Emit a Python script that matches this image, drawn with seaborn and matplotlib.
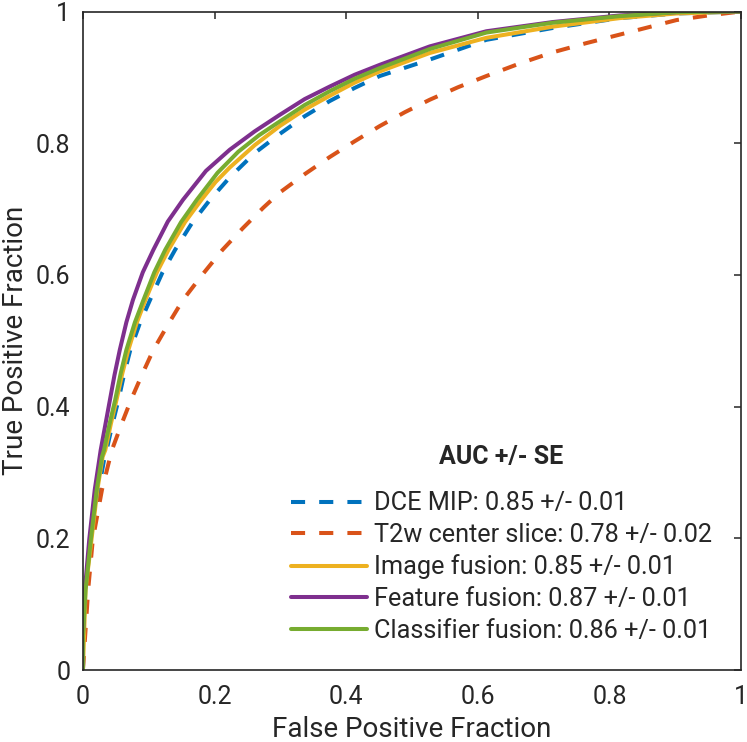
import numpy as np
import pandas as pd
import matplotlib
matplotlib.use("Agg")
import matplotlib.pyplot as plt
import seaborn as sns

sns.set_theme(style="white")
plt.rcParams['font.family'] = ['Roboto', 'DejaVu Sans']

# ROC points (false positive fraction, true positive fraction)
dce_fpf = [0, 0.004, 0.013, 0.024, 0.033, 0.036, 0.045, 0.054, 0.063, 0.072, 0.087, 0.102,
           0.121, 0.140, 0.1665, 0.193, 0.223, 0.261, 0.299, 0.337, 0.375, 0.413, 0.451,
           0.527, 0.613, 0.714, 0.816, 0.902, 1]
dce_tpf = [0, 0.122, 0.198, 0.274, 0.324, 0.334, 0.374, 0.410, 0.451, 0.486, 0.528, 0.562,
           0.604, 0.638, 0.680, 0.714, 0.748, 0.785, 0.814, 0.841, 0.864, 0.884, 0.902,
           0.927, 0.957, 0.975, 0.990, 0.997, 1]

t2w_fpf = [0, 0.008, 0.015, 0.029, 0.044, 0.0585, 0.073, 0.090, 0.107, 0.1295, 0.152, 0.182,
           0.212, 0.243, 0.274, 0.299, 0.337, 0.375, 0.413, 0.451, 0.489, 0.527, 0.570,
           0.613, 0.6635, 0.714, 0.765, 0.816, 0.902, 0.95, 1]
t2w_tpf = [0, 0.122, 0.198, 0.274, 0.334, 0.373, 0.410, 0.449, 0.486, 0.525, 0.562, 0.601,
           0.638, 0.671, 0.702, 0.725, 0.753, 0.779, 0.803, 0.826, 0.847, 0.866, 0.885,
           0.902, 0.921, 0.938, 0.952, 0.965, 0.987, 0.994, 1]

img_fpf = [0, 0.004, 0.013, 0.022, 0.030, 0.034, 0.0425, 0.051, 0.060, 0.069, 0.082, 0.095,
           0.1125, 0.130, 0.155, 0.180, 0.2015, 0.223, 0.261, 0.299, 0.337, 0.375, 0.413,
           0.451, 0.527, 0.613, 0.714, 0.816, 0.902, 1]
img_tpf = [0, 0.122, 0.198, 0.274, 0.324, 0.334, 0.374, 0.410, 0.451, 0.486, 0.528, 0.562,
           0.604, 0.638, 0.680, 0.714, 0.741, 0.763, 0.797, 0.826, 0.851, 0.872, 0.892,
           0.909, 0.937, 0.960, 0.977, 0.990, 0.997, 1]

feat_fpf = [0, 0.0, 0.003, 0.0096, 0.018, 0.027, 0.041, 0.048, 0.056, 0.066, 0.076,
            0.091, 0.107, 0.129, 0.152, 0.187, 0.223, 0.261, 0.299, 0.337, 0.375, 0.413,
            0.451, 0.527, 0.613, 0.714, 0.816, 0.902, 1]
feat_tpf = [0, 0.05, 0.122, 0.198, 0.274, 0.334, 0.410, 0.448, 0.486, 0.528, 0.562,
            0.604, 0.638, 0.681, 0.714, 0.758, 0.790, 0.818, 0.843, 0.867, 0.886, 0.904,
            0.919, 0.947, 0.970, 0.984, 0.994, 0.999, 1]

clf_fpf = [0, 0.0, 0.004, 0.012, 0.021, 0.029, 0.032, 0.0405, 0.049, 0.0575, 0.066, 0.079,
           0.092, 0.1085, 0.125, 0.149, 0.173, 0.2045, 0.236, 0.2675, 0.299, 0.337, 0.375,
           0.413, 0.451, 0.527, 0.613, 0.714, 0.816, 0.902, 1]
clf_tpf = [0, 0.05, 0.122, 0.198, 0.274, 0.324, 0.334, 0.374, 0.410, 0.451, 0.486, 0.528,
           0.562, 0.604, 0.638, 0.680, 0.714, 0.755, 0.787, 0.812, 0.833, 0.858, 0.879,
           0.898, 0.914, 0.943, 0.968, 0.983, 0.993, 0.999, 1]

labels = ['DCE MIP: 0.85 +/- 0.01',
          'T2w center slice: 0.78 +/- 0.02',
          'Image fusion: 0.85 +/- 0.01',
          'Feature fusion: 0.87 +/- 0.01',
          'Classifier fusion: 0.86 +/- 0.01']
colors = ['#0072BD', '#D95319', '#EDB120', '#7E2F8E', '#77AC30']
styles = [(0, (3.5, 3.5)), (0, (3.5, 3.5)), '-', '-', '-']
curves = [(dce_fpf, dce_tpf), (t2w_fpf, t2w_tpf), (img_fpf, img_tpf),
          (feat_fpf, feat_tpf), (clf_fpf, clf_tpf)]

dark = '#262626'
fig = plt.figure(figsize=(7.47, 7.42), dpi=100)
ax = fig.add_axes([0.111, 0.097, 0.881, 0.8875])

for (fx, ty), lab, col, ls in zip(curves, labels, colors, styles):
    sns.lineplot(x=fx, y=ty, ax=ax, sort=False, estimator=None, color=col,
                 linestyle=ls, linewidth=2.9, label=lab)

ax.set_xlim(0, 1)
ax.set_ylim(0, 1)
ticks = [0, 0.2, 0.4, 0.6, 0.8, 1]
ticklabels = ['0', '0.2', '0.4', '0.6', '0.8', '1']
ax.set_xticks(ticks)
ax.set_xticklabels(ticklabels)
ax.set_yticks(ticks)
ax.set_yticklabels(ticklabels)
ax.tick_params(direction='in', length=5, width=1.1, color=dark, labelcolor=dark,
               labelsize=18, top=True, right=True, pad=9)
ax.tick_params(axis='x', pad=11)
for sp in ax.spines.values():
    sp.set_color(dark)
    sp.set_linewidth(1.2)
ax.set_xlabel('False Positive Fraction', fontsize=20, color=dark, labelpad=5)
ax.set_ylabel('True Positive Fraction', fontsize=20, color=dark, labelpad=5)

leg = ax.legend(title='AUC +/- SE', loc='lower right', bbox_to_anchor=(0.99, 0.007),
                frameon=False, fontsize=18.2, handlelength=3.0, handletextpad=0.25,
                labelspacing=0.3,
                title_fontproperties={'weight': 'bold', 'size': 18})
# a bit more room between the title and the entries
leg._legend_box.sep = 16
for t in leg.get_texts():
    t.set_color(dark)
leg.get_title().set_color(dark)

fig.savefig('out.png', dpi=100)
